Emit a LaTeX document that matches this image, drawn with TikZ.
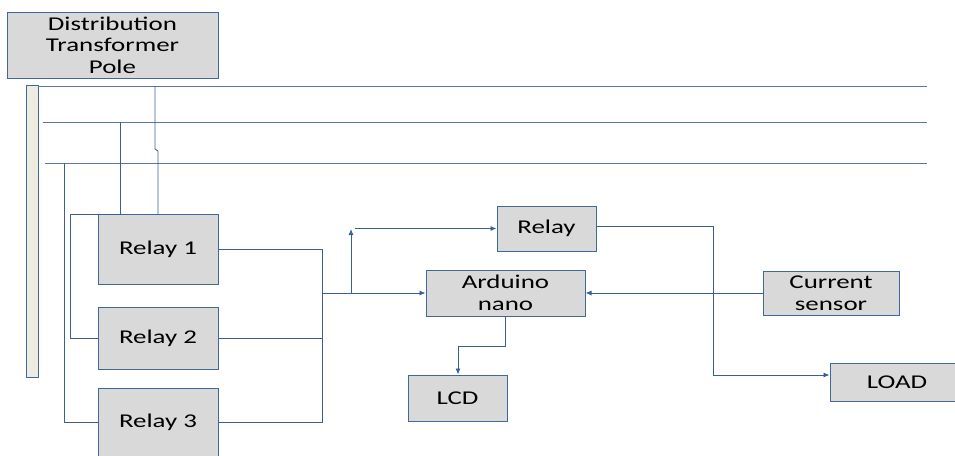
\documentclass[tikz,border=0pt]{standalone}
\usepackage{fontspec}
\setmainfont[FakeStretch=1.38]{Carlito}
\usetikzlibrary{arrows.meta}
\definecolor{boxfill}{HTML}{D9D9D9}
\definecolor{boxline}{HTML}{41689C}
\definecolor{wire}{HTML}{3C5E96}
\definecolor{polefill}{HTML}{EEECE1}
\tikzset{
  blk/.style={draw=boxline, fill=boxfill, line width=1pt, inner sep=0pt,
    align=center, font=\fontsize{19.5}{21.5}\selectfont},
  wr/.style={draw=wire, line width=0.9pt},
  bus/.style={draw=wire!85, line width=0.9pt},
  arr/.style={wr, -{Latex[length=6pt,width=5pt]}}
}
\begin{document}
\begin{tikzpicture}[x=1pt,y=-1pt]
\useasboundingbox (0,0) rectangle (955,455);

% pole and transformer
\node[blk, minimum width=211pt, minimum height=66pt] (dtp) at (112.5,45) {Distribution\\Transformer\\Pole};
\node[draw=boxline, fill=polefill, line width=1pt, minimum width=12pt, minimum height=292pt, inner sep=0pt] (pole) at (32,231) {};

% three-phase lines
\coordinate (l1s) at (38,86);  \coordinate (l1e) at (927,86);
\coordinate (l2s) at (43,122); \coordinate (l2e) at (927,122);
\coordinate (l3s) at (45,163); \coordinate (l3e) at (927,163);
\draw[bus] (l1s) -- (l1e);
\draw[bus] (l2s) -- (l2e);
\draw[bus] (l3s) -- (l3e);

% relays
\node[blk, minimum width=120pt, minimum height=70pt] (r1) at (158,249) {Relay 1};
\node[blk, minimum width=120pt, minimum height=62pt] (r2) at (158,338) {Relay 2};
\node[blk, minimum width=120pt, minimum height=68pt] (r3) at (158,422) {Relay 3};

% other blocks
\node[blk, minimum width=99pt, minimum height=45pt] (relay) at (546.5,228.5) {Relay};
\node[blk, minimum width=159pt, minimum height=46pt] (ard) at (505.5,293) {Arduino\\nano};
\node[blk, minimum width=99pt, minimum height=46pt] (lcd) at (457.5,398) {LCD};
\node[blk, minimum width=136pt, minimum height=44pt] (cs) at (831,293) {Current\\sensor};
\node[blk, minimum width=134pt, minimum height=38pt] (load) at (897,382) {LOAD};

% taps from the lines to the relays
\coordinate (t1) at (155,86);
\coordinate (t2) at (120,122);
\coordinate (t3) at (64,163);
\draw[wr] (t1) -- (155,149) -- (158,151) -- (158,214);
\draw[wr] (t2) -- (120,214) -- (70,214) -- (70,338) -- (r2.west);
\draw[wr] (t3) -- (64,422) -- (r3.west);

% relay outputs joined
\coordinate (jn) at (322,294);
\draw[wr] (r1.east) -- (322,249) -- (322,422) -- (r3.east);
\draw[wr] (r2.east) -- (322,338);
\draw[arr] (jn) -- (322,293) -- (ard.west);
\coordinate (up) at (351,229);
\draw[arr] (351,293) -- (up);
\draw[arr] (355,228.5) -- (relay.west);

% controller connections
\draw[arr] (505,316) -- (505,346) -- (458,346) -- (lcd.north -| 458,0);
\draw[arr] (cs.west) -- (ard.east);
\draw[arr] ([yshift=2.5pt]relay.east) -- (713,226) -- (713,375) -- ([yshift=7pt]load.west);
\end{tikzpicture}
\end{document}
